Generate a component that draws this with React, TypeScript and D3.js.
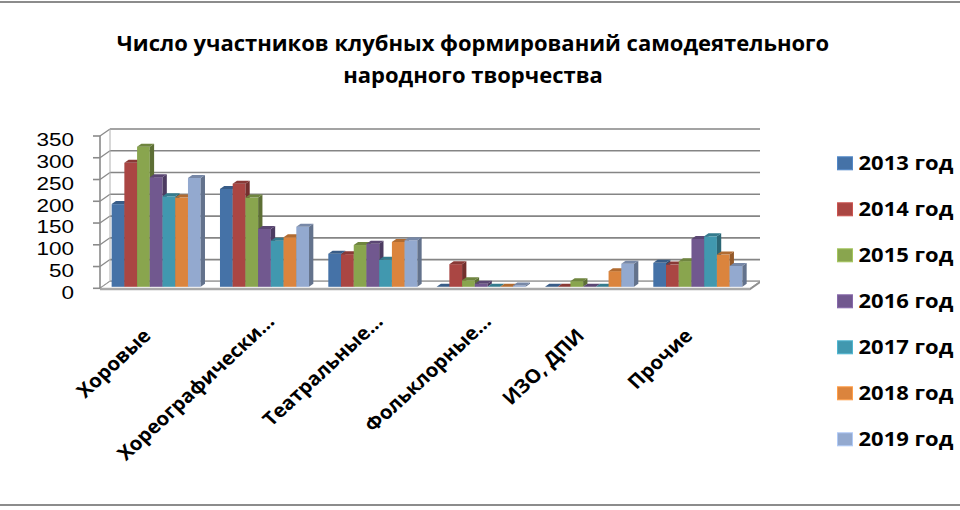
import React from 'react';
import * as d3 from 'd3';

// chart data
const categories = ['Хоровые', 'Хореографически…', 'Театральные…', 'Фольклорные…', 'ИЗО, ДПИ', 'Прочие'];
const seriesNames = ['2013 год', '2014 год', '2015 год', '2016 год', '2017 год', '2018 год', '2019 год'];
const seriesColors = ['#4572A7', '#AA4643', '#89A54E', '#71588F', '#4198AF', '#DB843D', '#93A9CF'];
const values2013 = [190, 225, 76, 0, 0, 55];
const values2014 = [285, 237, 75, 52, 0, 51];
const values2015 = [322, 205, 96, 15, 13, 59];
const values2016 = [252, 133, 99, 7, 0, 110];
const values2017 = [208, 106, 62, 0, 0, 116];
const values2018 = [205, 114, 103, 0, 36, 74];
const values2019 = [250, 138, 107, 3, 53, 48];
const yTicks = [0, 50, 100, 150, 200, 250, 300, 350];
const titleLines = ['Число участников клубных формирований самодеятельного', 'народного творчества'];

const seriesValues = [values2013, values2014, values2015, values2016, values2017, values2018, values2019];

const FONT = '"Open Sans", "Noto Sans", sans-serif';
// the source picture is a bit wider than tall, so rotated text leans a little flatter
const STRETCH = 1.08;

function App() {
  const left = 100, right = 750;
  // depth offsets for the walls and the bars
  const wall = { dx: 10, dy: -7 };
  const plane = { dx: 2, dy: -1.5 };
  const depth = { dx: 4.3, dy: -3 };

  const y = d3.scaleLinear().domain([0, 350]).range([288.3, 136]);
  const x = d3.scaleBand<string>().domain(categories).range([left, right])
    .paddingInner(0.178).paddingOuter(0.089);
  const xs = d3.scaleBand<string>().domain(seriesNames).range([0, x.bandwidth()]);

  const pts = (p: number[][]) => p.map(d => d.join(',')).join(' ');

  const y0 = y(0);

  return (
    <svg width={960} height={510} style={{ position: 'absolute', left: 0, top: 0 }}>
      <rect x={-3} y={2} width={966} height={503} fill="#fff" stroke="#8c8c8c" strokeWidth={2} />

      {titleLines.map((t, i) => (
        <text key={i} x={473} y={51 + i * 32} textAnchor="middle" fontFamily={FONT}
          fontWeight={700} fontSize={22} fill="#000">{t}</text>
      ))}

      {/* back wall gridlines */}
      {yTicks.map(t => (
        <g key={t}>
          <line x1={left + wall.dx} x2={right + wall.dx} y1={y(t) + wall.dy} y2={y(t) + wall.dy}
            stroke="#858585" strokeWidth={1.7} />
          <line x1={left} x2={left + wall.dx} y1={y(t)} y2={y(t) + wall.dy}
            stroke="#8a8a8a" strokeWidth={1.3} />
          <line x1={left - 7} x2={left} y1={y(t)} y2={y(t)} stroke="#8a8a8a" strokeWidth={1.6} />
          <text transform={`translate(74,${y(t) + 4}) scale(1.25,1)`} dy="0.35em" textAnchor="end"
            fontFamily='"Liberation Sans", Arial, sans-serif' fontSize={18} fill="#000">{t}</text>
        </g>
      ))}

      {/* floor */}
      <polygon points={pts([[left, y0], [right, y0], [right + wall.dx, y0 + wall.dy], [left + wall.dx, y0 + wall.dy]])}
        fill="#fff" stroke="#9a9a9a" strokeWidth={1} />
      <polygon points={pts([[left, y0], [right, y0], [right, y0 + 2], [left, y0 + 2]])}
        fill="#a8a8a8" />
      <polygon points={pts([[right, y0], [right + wall.dx, y0 + wall.dy], [right + wall.dx, y0 + wall.dy + 2], [right, y0 + 2]])}
        fill="#8f8f8f" />
      <line x1={left} x2={left} y1={y(350)} y2={y0} stroke="#8a8a8a" strokeWidth={1.6} />
      <line x1={left + wall.dx} x2={left + wall.dx} y1={y(350) + wall.dy} y2={y0 + wall.dy}
        stroke="#b0b0b0" strokeWidth={1} />

      {/* bars */}
      {categories.map((c, ci) => (
        <g key={c}>
          {seriesNames.map((s, si) => {
            const v = seriesValues[si][ci];
            const bx = (x(c) as number) + (xs(s) as number) + plane.dx;
            const w = xs.bandwidth();
            const top = y(v) + plane.dy;
            const bot = y0 + plane.dy;
            const col = seriesColors[si];
            return (
              <g key={s}>
                <rect x={bx} y={top} width={w} height={bot - top} fill={col} />
                <polygon points={pts([[bx + w, top], [bx + w + depth.dx, top + depth.dy], [bx + w + depth.dx, bot + depth.dy], [bx + w, bot]])}
                  fill={d3.color(col)!.darker(1.1).formatHex()} />
                <polygon points={pts([[bx, top], [bx + depth.dx, top + depth.dy], [bx + w + depth.dx, top + depth.dy], [bx + w, top]])}
                  fill={d3.color(col)!.darker(0.6).formatHex()} />
              </g>
            );
          })}
        </g>
      ))}

      {/* category labels; the cut ones run a little past the tick, like in Excel */}
      {categories.map(c => {
        const cx = (x(c) as number) + x.bandwidth() / 2 - 2;
        const cut = c.endsWith('…');
        return (
          <text key={c} transform={`translate(${cx},337) scale(${STRETCH},1) rotate(-45)`} textAnchor="end"
            dx={cut ? 20 : 0} fontFamily={FONT} fontWeight={700} fontSize={19} fill="#000">{c}</text>
        );
      })}

      {/* legend */}
      {seriesNames.map((s, i) => (
        <g key={s} transform={`translate(837.5,${163.3 + i * 46})`}>
          <rect x={0} y={-6.5} width={15} height={13} fill={seriesColors[i]}
            stroke={d3.color(seriesColors[i])!.brighter(0.5).formatHex()} strokeWidth={1} />
          <text transform="translate(21,0) scale(1.1,1)" dy="0.35em" fontFamily={FONT} fontWeight={700}
            fontSize={20} fill="#000">{s}</text>
        </g>
      ))}
    </svg>
  );
}

export default App;
